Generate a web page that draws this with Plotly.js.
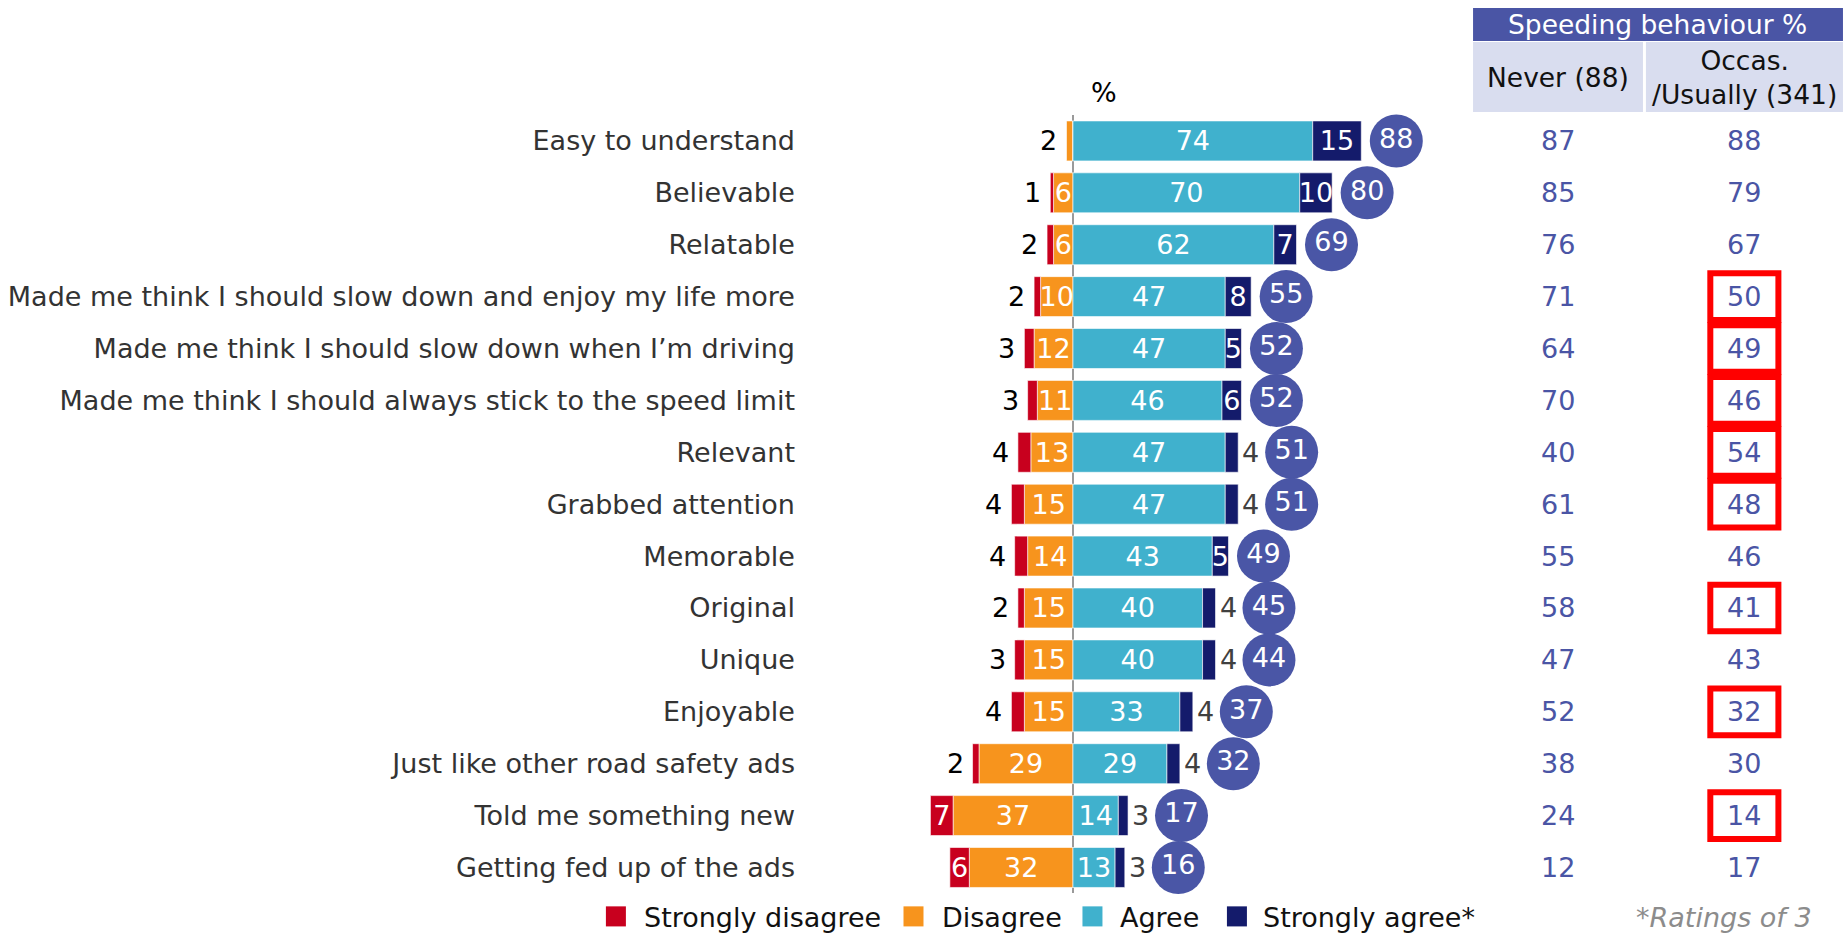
<!DOCTYPE html>
<html>
<head>
<meta charset="utf-8">
<script src="https://cdn.plot.ly/plotly-3.0.1.min.js"></script>
<style>html,body{margin:0;padding:0;background:#fff;}#chart{width:1845px;height:937px;}</style>
</head>
<body>
<div id="chart"></div>
<script>
const categories = [
  "Easy to understand",
  "Believable",
  "Relatable",
  "Made me think I should slow down and enjoy my life more",
  "Made me think I should slow down when I\u2019m driving",
  "Made me think I should always stick to the speed limit",
  "Relevant",
  "Grabbed attention",
  "Memorable",
  "Original",
  "Unique",
  "Enjoyable",
  "Just like other road safety ads",
  "Told me something new",
  "Getting fed up of the ads"
];
const stronglyDisagree = [0, 1, 2, 2, 3, 3, 4, 4, 4, 2, 3, 4, 2, 7, 6];
const disagree         = [2, 6, 6, 10, 12, 11, 13, 15, 14, 15, 15, 15, 29, 37, 32];
const agree            = [74, 70, 62, 47, 47, 46, 47, 47, 43, 40, 40, 33, 29, 14, 13];
const stronglyAgree    = [15, 10, 7, 8, 5, 6, 4, 4, 5, 4, 4, 4, 4, 3, 3];
const netAgree         = [88, 80, 69, 55, 52, 52, 51, 51, 49, 45, 44, 37, 32, 17, 16];
const neverSpeeding    = [87, 85, 76, 71, 64, 70, 40, 61, 55, 58, 47, 52, 38, 24, 12];
const occasSpeeding    = [88, 79, 67, 50, 49, 46, 54, 48, 46, 41, 43, 32, 30, 14, 17];
const occasFlagged     = [0, 0, 0, 1, 1, 1, 1, 1, 0, 1, 0, 1, 0, 1, 0];
const legendNames = ["Strongly disagree", "Disagree", "Agree", "Strongly agree*"];
const tableHeader = "Speeding behaviour %";
const colHeaders = ["Never (88)", "Occas.<br>/Usually (341)"];

const FONT = "DejaVu Sans, Verdana, sans-serif";
const FS = 27;
const C_SD = "#C8001E", C_D = "#F7941D", C_A = "#40B1CD", C_SA = "#141B6B";
const C_BUB = "#4A56A6", C_TAB = "#4A55A5";
const legendColors = [C_SD, C_D, C_A, C_SA];
const MIN_IN = 5;

const inLbl = (arr) => arr.map(v => v >= MIN_IN ? String(v) : "");
const barCommon = {
  type: "bar", orientation: "h", y: categories,
  textposition: "inside", insidetextanchor: "middle", textangle: 0,
  textfont: {family: FONT, size: FS, color: "#ffffff"},
  hoverinfo: "x+y", cliponaxis: false, showlegend: false
};
const edge = {color: "rgba(255,255,255,0.6)", width: 1};

const traces = [
  Object.assign({}, barCommon, {name: legendNames[1], x: disagree.map(v => -v),
    text: inLbl(disagree), marker: {color: C_D, line: edge}}),
  Object.assign({}, barCommon, {name: legendNames[0], x: stronglyDisagree.map(v => -v),
    text: inLbl(stronglyDisagree), marker: {color: C_SD, line: edge}}),
  Object.assign({}, barCommon, {name: legendNames[2], x: agree,
    text: inLbl(agree), marker: {color: C_A, line: edge}}),
  Object.assign({}, barCommon, {name: legendNames[3], x: stronglyAgree,
    text: inLbl(stronglyAgree), marker: {color: C_SA, line: edge}}),
  {
    type: "scatter", mode: "markers+text", showlegend: false, cliponaxis: false,
    y: categories,
    x: agree.map((a, i) => a + stronglyAgree[i] + (stronglyAgree[i] < MIN_IN ? 16.5 : 10.8)),
    text: netAgree.map(String), textposition: "middle center",
    textfont: {family: FONT, size: FS, color: "#ffffff"},
    marker: {size: 53, color: C_BUB}, hoverinfo: "text"
  }
];

const annotations = [];
const shapes = [];
categories.forEach((c, i) => {
  const sd = stronglyDisagree[i], d = disagree[i];
  if (sd < MIN_IN) {
    annotations.push({x: -(sd + d), y: c, xref: "x", yref: "y", text: String(sd > 0 ? sd : d),
      xanchor: "right", yanchor: "middle", xshift: -7, showarrow: false,
      font: {family: FONT, size: FS, color: "#000000"}});
  }
  if (stronglyAgree[i] < MIN_IN) {
    annotations.push({x: agree[i] + stronglyAgree[i], y: c, xref: "x", yref: "y", text: String(stronglyAgree[i]),
      xanchor: "left", yanchor: "middle", xshift: 2, showarrow: false,
      font: {family: FONT, size: FS, color: "#404040"}});
  }
  annotations.push({x: 0.8444, y: c, xref: "paper", yref: "y", text: String(neverSpeeding[i]),
    xanchor: "center", yanchor: "middle", showarrow: false, font: {family: FONT, size: FS, color: C_TAB}});
  annotations.push({x: 0.9455, y: c, xref: "paper", yref: "y", text: String(occasSpeeding[i]),
    xanchor: "center", yanchor: "middle", showarrow: false, font: {family: FONT, size: FS, color: C_TAB}});
  if (occasFlagged[i]) {
    shapes.push({type: "rect", xref: "paper", yref: "y", x0: 0.9270, x1: 0.9639, y0: i - 0.45, y1: i + 0.45,
      line: {color: "#FF0000", width: 6}, fillcolor: "rgba(0,0,0,0)"});
  }
});

// table header
shapes.push({type: "rect", xref: "paper", yref: "paper", x0: 0.7984, x1: 0.9989, y0: 0.9562, y1: 0.9915,
  line: {width: 0}, fillcolor: C_TAB, layer: "below"});
shapes.push({type: "rect", xref: "paper", yref: "paper", x0: 0.7984, x1: 0.8905, y0: 0.8805, y1: 0.9552,
  line: {width: 0}, fillcolor: "#D9DDEF", layer: "below"});
shapes.push({type: "rect", xref: "paper", yref: "paper", x0: 0.8921, x1: 0.9989, y0: 0.8805, y1: 0.9552,
  line: {width: 0}, fillcolor: "#D9DDEF", layer: "below"});
annotations.push({x: 0.8986, y: 0.9738, xref: "paper", yref: "paper", text: tableHeader, showarrow: false,
  xanchor: "center", yanchor: "middle", font: {family: FONT, size: 26.5, color: "#ffffff"}});
annotations.push({x: 0.8444, y: 0.9178, xref: "paper", yref: "paper", text: colHeaders[0], showarrow: false,
  xanchor: "center", yanchor: "middle", font: {family: FONT, size: 26.5, color: "#111111"}});
annotations.push({x: 0.9455, y: 0.9178, xref: "paper", yref: "paper", text: colHeaders[1], showarrow: false,
  xanchor: "center", yanchor: "middle", font: {family: FONT, size: 26.5, color: "#111111"}});
annotations.push({x: 0.5984, y: 0.9018, xref: "paper", yref: "paper", text: "%", showarrow: false,
  xanchor: "center", yanchor: "middle", font: {family: FONT, size: FS, color: "#000000"}});
annotations.push({x: 0.9344, y: 0.0203, xref: "paper", yref: "paper", text: "<i>*Ratings of 3</i>", showarrow: false,
  xanchor: "center", yanchor: "middle", font: {family: FONT, size: FS, color: "#8C8C8C"}});

// legend (squares + labels)
const legSquareX = [0.3284, 0.4897, 0.5867, 0.6650];
const legTextX = [0.3480, 0.5093, 0.6057, 0.6832];
legendNames.forEach((name, k) => {
  shapes.push({type: "rect", xref: "paper", yref: "paper", x0: legSquareX[k], x1: legSquareX[k] + 20 / 1845,
    y0: 0.0113, y1: 0.0327, line: {width: 0}, fillcolor: legendColors[k]});
  annotations.push({x: legTextX[k], y: 0.0203, xref: "paper", yref: "paper", text: name, showarrow: false,
    xanchor: "left", yanchor: "middle", font: {family: FONT, size: FS, color: "#111111"}});
});

const layout = {
  width: 1845, height: 937,
  margin: {l: 0, r: 0, t: 0, b: 0},
  paper_bgcolor: "#ffffff", plot_bgcolor: "rgba(0,0,0,0)",
  barmode: "relative", bargap: 0.23,
  font: {family: FONT, size: FS, color: "#333333"},
  uniformtext: {mode: "show", minsize: FS},
  xaxis: {domain: [0.4336, 1], range: [-84.26, 238.3], showgrid: false, showticklabels: false, ticks: "",
    zeroline: true, zerolinecolor: "#9A9A9A", zerolinewidth: 2, fixedrange: true},
  yaxis: {type: "category", categoryarray: categories, range: [14.5, -0.5], domain: [0.0465, 0.8773],
    showgrid: false, zeroline: false, ticks: "", showline: false, ticklabelstandoff: 4,
    tickfont: {family: FONT, size: FS, color: "#333333"}, fixedrange: true},
  showlegend: false,
  annotations: annotations,
  shapes: shapes
};

Plotly.newPlot("chart", traces, layout, {displayModeBar: false, responsive: false});
</script>
</body>
</html>
